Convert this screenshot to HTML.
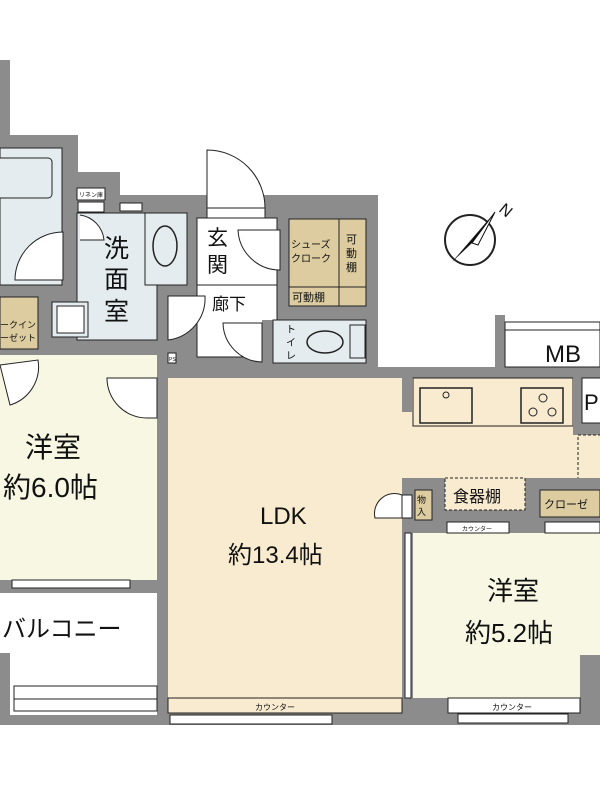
<!DOCTYPE html>
<html><head><meta charset="utf-8"><style>
html,body{margin:0;padding:0;background:#fff;width:600px;height:800px;overflow:hidden}
svg{display:block}
text{font-family:"Liberation Sans","Noto Sans CJK JP",sans-serif;fill:#111}
</style></head><body>
<svg width="600" height="800" viewBox="0 0 600 800">
<g fill="#8c8c8c">
<rect x="0" y="60" width="10" height="80"/>
<rect x="0" y="135" width="78" height="225"/>
<rect x="65" y="172" width="55" height="40"/>
<rect x="65" y="195" width="313" height="183"/>
<rect x="0" y="345" width="168" height="380"/>
<rect x="157" y="367" width="443" height="358"/>
<rect x="495" y="315" width="10" height="55"/>
</g>
<!-- bathroom -->
<rect x="0" y="148" width="62" height="137" fill="#e4ecef" stroke="#222" stroke-width="1"/>
<rect x="-5" y="158" width="57" height="40" rx="4" fill="#e4ecef" stroke="#222"/>
<!-- walk-in -->
<rect x="0" y="297" width="38" height="52" fill="#dccca0" stroke="#222"/>
<text x="0" y="328" font-size="9">ークイン</text><text x="0" y="341" font-size="9">ーゼット</text>
<!-- linen -->
<rect x="77" y="188" width="28" height="12" fill="#fff" stroke="#222"/><text x="79" y="197" font-size="6">リネン庫</text>
<rect x="78" y="202" width="26" height="10" fill="#fff" stroke="#222"/>
<rect x="120" y="203" width="22" height="8" fill="#fff" stroke="#222"/>
<!-- 洗面室 -->
<rect x="77" y="213" width="80" height="127" fill="#e4ecef" stroke="#222"/>
<rect x="145" y="213" width="42" height="72" fill="#e4ecef" stroke="#222"/>
<ellipse cx="165" cy="246" rx="12" ry="20" fill="none" stroke="#222" stroke-width="1.5"/>
<rect x="52" y="302" width="36" height="35" fill="#e4ecef" stroke="#222"/>
<rect x="57" y="306" width="27" height="27" fill="#fff" stroke="#222"/>
<text x="104" y="257" font-size="25">洗</text><text x="104" y="288" font-size="25">面</text><text x="104" y="320" font-size="25">室</text>
<!-- door bathroom -->
<path d="M15 280 A48 48 0 0 1 63 232 L63 280 Z" fill="#fff" stroke="#222"/>
<path d="M80 215 A28 28 0 0 1 104 240 L80 240" fill="#fff" stroke="#222"/>
<!-- genkan -->
<rect x="197" y="218" width="80" height="67" fill="#fff" stroke="#222"/>
<rect x="197" y="285" width="80" height="72" fill="#fff" stroke="#222"/>
<rect x="262" y="320" width="18" height="42" fill="#8c8c8c"/>
<path d="M207 150 A58 58 0 0 1 265 208 L207 208 Z" fill="#fff" stroke="#222"/>
<rect x="207" y="208" width="58" height="10" fill="#fff" stroke="#222"/>
<path d="M238 230 A42 42 0 0 0 280 270 L280 230 Z" fill="#fff" stroke="#222"/>
<path d="M168 296 L168 340 A42 42 0 0 0 205 296 Z" fill="#fff" stroke="#222"/>
<path d="M223 323 A40 40 0 0 0 262 362 L262 323 Z" fill="#fff" stroke="#222"/>
<text x="207" y="245" font-size="21">玄</text><text x="207" y="272" font-size="21">関</text>
<text x="212" y="310" font-size="17">廊下</text>
<!-- shoes -->
<rect x="289" y="219" width="50" height="68" fill="#dccca0" stroke="#222"/>
<rect x="339" y="219" width="27" height="68" fill="#dccca0" stroke="#222"/>
<rect x="289" y="287" width="50" height="19" fill="#dccca0" stroke="#222"/>
<rect x="339" y="287" width="27" height="19" fill="#dccca0" stroke="#222"/>
<text x="291" y="248" font-size="10">シューズ</text><text x="291" y="262" font-size="10">クローク</text>
<text x="346" y="243" font-size="11">可</text><text x="346" y="257" font-size="11">動</text><text x="346" y="271" font-size="11">棚</text>
<text x="292" y="301" font-size="11">可動棚</text>
<!-- toilet -->
<rect x="273" y="320" width="93" height="43" fill="#e4ecef" stroke="#222"/>
<ellipse cx="325" cy="342" rx="18" ry="11" fill="none" stroke="#222" stroke-width="1.5"/>
<rect x="350" y="325" width="15" height="33" fill="#e4ecef" stroke="#222"/>
<text x="286" y="333" font-size="10">ト</text><text x="286" y="346" font-size="10">イ</text><text x="286" y="359" font-size="10">レ</text>
<rect x="168" y="353" width="8" height="10" fill="#fff" stroke="#222"/><text x="169" y="361" font-size="5">PS</text>
<!-- 洋室6.0 -->
<rect x="0" y="355" width="157" height="225" fill="#f7f7e4"/>
<path d="M107 378 A40 40 0 0 0 147 418 L157 418 L157 378 Z" fill="#fff" stroke="#222"/>
<path d="M0 365 L10 405 A40 40 0 0 0 38 360 Z" fill="#fff" stroke="#222"/>
<rect x="12" y="580" width="118" height="8" fill="#fff" stroke="#222"/>
<text x="25" y="457" font-size="28">洋室</text>
<text x="3" y="497" font-size="28">約6.0帖</text>
<!-- balcony -->
<rect x="0" y="593" width="157" height="122" fill="#fff"/>
<rect x="14" y="686" width="143" height="13" fill="#fff" stroke="#222"/>
<rect x="14" y="699" width="143" height="12" fill="#fff" stroke="#222"/>
<rect x="0" y="653" width="10" height="72" fill="#8c8c8c"/>
<text x="2" y="637" font-size="24">バルコニー</text>
<!-- LDK -->
<rect x="168" y="378" width="234" height="320" fill="#f8ebd0"/>
<rect x="402" y="378" width="198" height="102" fill="#f8ebd0"/>
<rect x="168" y="698" width="234" height="15" fill="#f8ebd0" stroke="#222"/>
<text x="255" y="710" font-size="8">カウンター</text>
<rect x="170" y="715" width="162" height="9" fill="#fff" stroke="#222"/>
<text x="260" y="524" font-size="24">LDK</text>
<text x="228" y="563" font-size="24">約13.4帖</text>
<!-- kitchen -->
<rect x="402" y="367" width="10" height="45" fill="#8c8c8c"/>
<rect x="413" y="378" width="160" height="48" fill="#f8ebd0" stroke="#222"/>
<rect x="420" y="388" width="52" height="35" fill="#f8ebd0" stroke="#222" stroke-width="1.5"/>
<circle cx="446" cy="395" r="3" fill="none" stroke="#222"/>
<rect x="521" y="388" width="42" height="35" fill="#f8ebd0" stroke="#222" stroke-width="1.5"/>
<circle cx="543" cy="398" r="4" fill="none" stroke="#222"/><circle cx="533" cy="412" r="4" fill="none" stroke="#222"/><circle cx="552" cy="412" r="4" fill="none" stroke="#222"/>
<rect x="573" y="367" width="27" height="68" fill="#8c8c8c"/>
<rect x="582" y="378" width="20" height="45" fill="#fff" stroke="#222"/>
<text x="584" y="410" font-size="22">P</text>
<rect x="578" y="435" width="25" height="45" fill="none" stroke="#222" stroke-dasharray="3,2"/>
<!-- MB -->
<rect x="505" y="322" width="95" height="45" fill="#fff" stroke="#222"/>
<line x1="505" y1="330" x2="600" y2="330" stroke="#222"/>
<text x="545" y="362" font-size="24">MB</text>
<!-- 食器棚 etc -->
<rect x="402" y="478" width="198" height="55" fill="#8c8c8c"/>
<rect x="445" y="478" width="80" height="32" fill="#f8ebd0" stroke="#222" stroke-dasharray="3,2"/>
<text x="453" y="502" font-size="16">食器棚</text>
<rect x="415" y="490" width="17" height="30" fill="#dccca0" stroke="#222"/>
<text x="417" y="503" font-size="9">物</text><text x="417" y="515" font-size="9">入</text>
<path d="M375 518 A20 20 0 0 1 402 495 L402 518 Z" fill="#fff" stroke="#222"/>
<rect x="402" y="495" width="10" height="23" fill="#fff" stroke="#222"/>
<rect x="540" y="490" width="60" height="27" fill="#dccca0" stroke="#222"/>
<text x="544" y="508" font-size="11">クローゼ</text>
<!-- 洋室5.2 -->
<rect x="413" y="533" width="187" height="165" fill="#f7f7e4"/>
<rect x="447" y="522" width="62" height="11" fill="#fff" stroke="#222"/><text x="462" y="531" font-size="6">カウンター</text>
<rect x="545" y="522" width="55" height="11" fill="#fff" stroke="#222"/>
<rect x="405" y="533" width="6" height="165" fill="#fff" stroke="#222"/>
<rect x="580" y="655" width="20" height="70" fill="#8c8c8c"/>
<rect x="448" y="698" width="132" height="15" fill="#fff" stroke="#222"/>
<text x="492" y="710" font-size="8">カウンター</text>
<rect x="458" y="714" width="110" height="9" fill="#fff" stroke="#222"/>
<text x="487" y="600" font-size="26">洋室</text>
<text x="465" y="642" font-size="26">約5.2帖</text>
<!-- compass -->
<circle cx="470" cy="240" r="25" fill="#fff" stroke="#222" stroke-width="2"/>
<polygon points="495,212 452,262 472,243" fill="#111"/>
<polygon points="495,212 472,243 478,245" fill="#fff" stroke="#111"/>
<text x="500" y="215" font-size="16" transform="rotate(40 505 210)">N</text>
</svg>
</body></html>
